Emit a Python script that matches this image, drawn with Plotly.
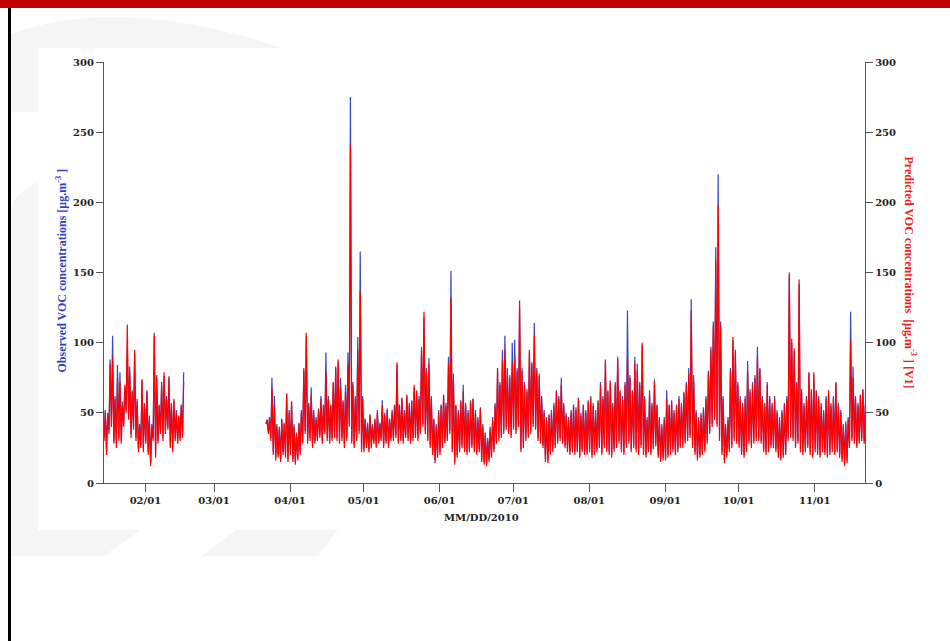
import pandas as pd
import plotly.graph_objects as go

# ---------------- data (daily peak / trough) ----------------
seg1_start = "2010-01-15"
pred_hi_1 = [50,48,85,90,60,75,72,55,70,113,78,65,95,58,40,74,55,
             65,45,40,105,75,55,70,79,60,75,55,60,50,48,55,72]
pred_lo_1 = [30,20,35,40,28,25,30,28,40,50,45,32,40,30,22,25,22,
             28,20,12,30,18,28,35,30,35,38,25,22,30,28,30,32]
obs_hi_1 = [52,50,88,105,62,84,79,58,68,95,83,66,92,60,42,73,57,
            66,48,42,107,77,56,72,76,62,76,57,58,52,47,56,79]
obs_lo_1 = [32,25,38,42,30,28,32,30,42,52,48,35,38,32,25,27,25,
            30,22,15,32,20,30,36,32,37,40,28,25,32,30,32,35]

seg2_start = "2010-03-22"
pred_hi_2 = (
    [45,46,68,55,40,38,45,42,63,50] +
    [58,40,35,42,50,82,107,55,62,50, 45,52,60,55,80,60,55,72,83,88, 68,58,65,85,241,70,60,95,137,60] +
    [45,42,48,40,45,50,42,55,48,52, 45,50,55,86,55,60,50,62,55,58, 70,65,60,97,122,80,85,60,45,40, 50] +
    [55,63,55,85,132,75,55,50,58,65, 55,50,58,60,50,45,53,40,35,30, 38,45,55,82,70,88,95,80,75,85] +
    [90,80,130,80,70,65,95,85,105,80, 76,60,50,45,48,50,55,65,60,70, 55,48,45,50,55,52,60,48,55,50, 58] +
    [61,55,50,58,70,60,88,65,72,55, 70,90,65,60,70,90,75,65,85,80, 70,100,60,45,62,55,72,55,45,40, 45] +
    [60,55,58,50,55,60,55,64,70,78, 123,72,50,45,48,52,60,78,95,112, 159,198,112,60,40,45,80,104,95,70] +
    [60,55,60,80,65,70,75,90,81,60, 55,70,60,55,60,50,45,50,55,60, 150,103,96,70,145,65,55,60,79,65, 79] +
    [65,60,55,50,60,66,55,60,71,55, 50,40,42,45,102,75,60,55,62,67, 55]
)
pred_lo_2 = (
    [42,35,30,20,16,18,15,20,18,15] +
    [20,15,13,16,20,28,35,28,30,25, 28,30,32,28,35,30,28,30,32,30, 28,30,25,30,40,28,25,30,35,22] +
    [22,25,22,25,28,25,28,30,25,28, 25,30,30,32,28,30,28,32,30,28, 30,32,30,35,40,35,30,25,20,14, 18] +
    [20,25,28,30,35,22,13,18,22,25, 22,20,22,25,22,20,22,15,13,12, 15,18,22,28,30,32,35,38,35,32] +
    [38,35,40,22,25,30,32,35,40,38, 30,28,25,15,14,20,22,25,28,30, 28,25,22,20,22,20,22,18,22,20, 20] +
    [22,18,20,22,25,20,25,22,20,18, 22,25,28,22,20,25,28,22,25,22, 20,25,20,18,22,20,24,26,18,15, 16] +
    [16,18,20,22,20,22,25,25,28,30, 32,25,20,16,18,20,22,28,35,40, 45,40,30,20,14,18,22,25,30,28] +
    [25,20,18,22,28,25,28,30,30,28, 22,20,22,25,25,22,18,16,18,20, 30,32,30,25,28,22,20,22,25,20, 18] +
    [22,20,18,22,20,18,20,22,20,22, 18,15,12,14,25,30,28,25,28,30, 28]
)
obs_hi_2 = (
    [45,47,75,62,42,40,46,43,64,52] +
    [58,42,36,43,52,80,105,57,68,52, 47,53,62,56,93,62,56,71,82,86, 75,59,70,93,275,72,62,104,165,62] +
    [46,43,49,42,46,52,43,59,50,53, 46,52,56,84,56,61,52,63,57,59, 68,66,62,95,118,82,89,62,46,42, 52] +
    [56,62,57,90,151,78,56,52,59,70, 57,52,59,60,52,47,54,42,36,32, 40,47,57,80,72,95,105,82,77,100] +
    [102,82,125,82,72,67,93,86,114,82, 78,62,52,47,49,52,57,66,62,75, 57,50,47,52,56,54,61,50,56,52, 59] +
    [62,57,52,59,72,62,86,66,73,57, 72,88,66,62,72,123,77,66,90,85, 72,98,62,47,66,57,74,56,47,42, 47] +
    [66,56,59,52,56,62,57,65,72,82, 131,77,52,47,50,54,62,80,97,115, 168,220,115,62,42,47,82,102,93,72] +
    [62,57,62,87,67,72,77,97,82,62, 57,72,62,57,62,52,47,52,57,62, 148,100,94,72,142,67,57,62,78,67, 77] +
    [66,62,57,52,62,66,57,62,72,57, 52,42,44,47,122,83,62,57,63,66, 57]
)
obs_lo_2 = (
    [43,37,32,22,18,20,17,22,20,17] +
    [22,17,15,18,22,30,37,30,32,27, 30,32,34,30,37,32,30,32,34,32, 30,32,27,32,42,30,27,32,37,24] +
    [24,27,24,27,30,27,30,32,27,30, 27,32,32,34,30,32,30,34,32,30, 32,34,32,37,42,37,32,27,22,16, 20] +
    [22,27,30,32,37,24,15,20,24,27, 24,22,24,27,24,22,24,17,15,14, 17,20,24,30,32,34,37,40,37,34] +
    [40,37,42,24,27,32,34,37,42,40, 32,30,27,17,16,22,24,27,30,32, 30,27,24,22,24,22,24,20,24,22, 22] +
    [24,20,22,24,27,22,27,24,22,20, 24,27,30,24,22,27,30,24,27,24, 22,27,22,20,24,22,26,28,20,17, 18] +
    [18,20,22,24,22,24,27,27,30,32, 34,27,22,18,20,22,24,30,37,42, 47,42,32,22,16,20,24,27,32,30] +
    [27,22,20,24,30,27,30,32,32,30, 24,22,24,27,27,24,20,18,20,22, 32,34,32,27,30,24,22,24,27,22, 20] +
    [24,22,20,24,22,20,22,24,22,24, 20,17,14,16,27,32,30,27,30,32, 30]
)

y_ticks = [0, 50, 100, 150, 200, 250, 300]
x_range = ["2010-01-15 03:00", "2010-11-21 12:00"]


def build(start, hi, lo):
    xs, ys = [], []
    days = pd.date_range(start, periods=len(hi), freq="D")
    for d, h, l in zip(days, hi, lo):
        xs += [d + pd.Timedelta(hours=4), d + pd.Timedelta(hours=15)]
        ys += [l, h]
    return xs, ys


def series(hi1, lo1, hi2, lo2):
    x1, y1 = build(seg1_start, hi1, lo1)
    x2, y2 = build(seg2_start, hi2, lo2)
    return x1 + [None] + x2, y1 + [None] + y2


ox, oy = series(obs_hi_1, obs_lo_1, obs_hi_2, obs_lo_2)
px_, py_ = series(pred_hi_1, pred_lo_1, pred_hi_2, pred_lo_2)

fig = go.Figure()
fig.add_trace(go.Scatter(x=ox, y=oy, mode="lines", name="Observed",
                         line=dict(color="#3448c4", width=1.2), connectgaps=False,
                         yaxis="y"))
fig.add_trace(go.Scatter(x=px_, y=py_, mode="lines", name="Predicted",
                         line=dict(color="#ff0000", width=1.2), connectgaps=False,
                         yaxis="y2"))

# ---------------- layout geometry ----------------
W, H = 950, 641
L, R, T, B = 104, 865, 62, 483


def X(x):
    return (x - L) / (R - L)


def Y(y):
    return (B - y) / (B - T)


def path(pts, closed=True):
    s = ""
    for i, p in enumerate(pts):
        if p[0] == "Q":
            s += " Q %.5f,%.5f %.5f,%.5f" % (X(p[1]), Y(p[2]), X(p[3]), Y(p[4]))
        else:
            s += ("M" if i == 0 else " L") + " %.5f,%.5f" % (X(p[0]), Y(p[1]))
    return s + (" Z" if closed else "")


gray = "#f5f5f5"
shapes = [
    # faint watermark shapes
    dict(type="path", xref="paper", yref="paper", layer="below", fillcolor=gray, line_width=0,
         path=path([(11, 34), ("Q", 120, -6, 282, 48), (38, 48), (38, 112), (11, 112)])),
    dict(type="path", xref="paper", yref="paper", layer="below", fillcolor=gray, line_width=0,
         path=path([(11, 205), ("Q", 22, 188, 38, 182), (38, 556), (11, 556)])),
    dict(type="path", xref="paper", yref="paper", layer="below", fillcolor=gray, line_width=0,
         path=path([(38, 530), (140, 530), (104, 556), (38, 556)])),
    dict(type="path", xref="paper", yref="paper", layer="below", fillcolor=gray, line_width=0,
         path=path([(236, 530), (338, 530), (318, 556), (202, 556)])),
    # red header bar
    dict(type="rect", xref="paper", yref="paper", x0=X(0), x1=X(W), y0=Y(8), y1=Y(0),
         fillcolor="#c00000", line_width=0),
    # black left rule
    dict(type="rect", xref="paper", yref="paper", x0=X(8), x1=X(11), y0=Y(H), y1=Y(8),
         fillcolor="#000000", line_width=0),
]

tickfont = dict(family="DejaVu Serif", size=10, color="#222222", weight="bold")
axis_common = dict(range=[0, 300], tickvals=y_ticks, showgrid=False, zeroline=False,
                   showline=True, linecolor="#555555", linewidth=1.3, ticks="outside",
                   ticklen=7, tickwidth=1.3, tickcolor="#555555", tickfont=tickfont,
                   fixedrange=True)

fig.update_layout(
    width=W, height=H, autosize=False,
    margin=dict(l=L, r=W - R, t=T, b=H - B, pad=0),
    paper_bgcolor="white", plot_bgcolor="white",
    showlegend=False,
    xaxis=dict(type="date", range=x_range, tick0="2010-02-01", dtick="M1",
               tickformat="%m/%d", showgrid=False, zeroline=False, showline=True,
               linecolor="#555555", linewidth=1.3, ticks="outside", ticklen=8,
               tickwidth=1.3, tickcolor="#555555", tickfont=tickfont),
    yaxis=dict(side="left", **axis_common),
    yaxis2=dict(side="right", overlaying="y", **axis_common),
    shapes=shapes,
    annotations=[
        dict(text="Observed VOC concentrations [μg.m<sup>-3</sup> ]", xref="paper", yref="paper",
             x=X(51), y=Y(271), showarrow=False, textangle=-90,
             font=dict(family="Liberation Serif", size=12, color="#2f3fbf", weight="bold")),
        dict(text="Predicted VOC concentrations  [μg.m<sup>-3</sup> ] [V1]", xref="paper", yref="paper",
             x=X(920), y=Y(272), showarrow=False, textangle=90,
             font=dict(family="Liberation Serif", size=12, color="#ee1c1c", weight="bold")),
        dict(text="MM/DD/2010", xref="paper", yref="paper",
             x=X(481), y=Y(525), showarrow=False,
             font=dict(family="DejaVu Serif", size=10, color="#222222", weight="bold")),
    ],
)

fig.write_html("out.html", config={"displayModeBar": False},
               post_script="document.body.style.margin='0';")
